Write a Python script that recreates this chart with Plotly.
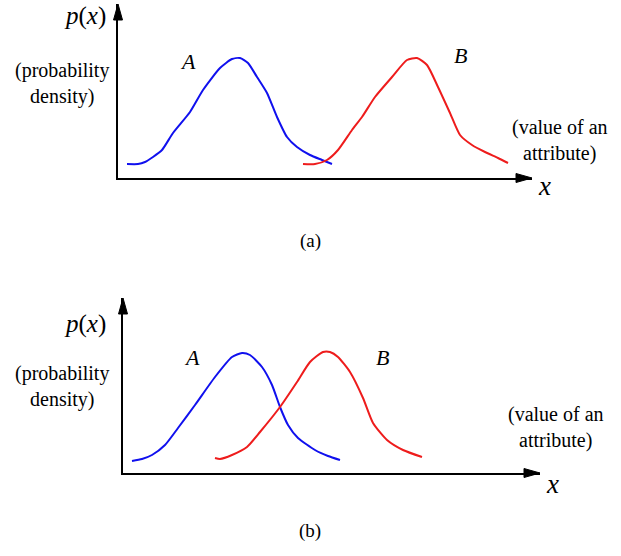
import plotly.graph_objects as go

W, H = 621, 556

# ---- data (axis units: x = attribute value, y = probability density) ----
# Panel (a): well separated classes
a_blue_x = [9, 20, 27, 35, 44, 55, 72, 85, 102, 114, 122, 130, 139, 149, 159, 169, 179, 192, 204, 214]
a_blue_y = [14, 14, 16, 21, 28, 45, 66, 88, 110, 119, 120, 115, 101, 85, 61, 41, 31, 23, 18, 14]
a_red_x = [185, 197, 209, 220, 234, 244, 257, 274, 289, 299, 309, 320, 332, 342, 354, 367, 380, 390]
a_red_y = [14, 14, 18, 28, 48, 61, 81, 101, 118, 120, 113, 91, 65, 43, 33, 26, 20, 15]

# Panel (b): overlapping classes
b_blue_x = [9, 19, 29, 42, 55, 72, 92, 109, 119, 127, 139, 149, 157, 165, 175, 192, 205, 217]
b_blue_y = [12, 14, 18, 28, 45, 68, 96, 116, 120, 118, 106, 88, 66, 48, 35, 23, 17, 13]
b_red_x = [92, 97, 109, 124, 137, 157, 174, 187, 200, 207, 215, 227, 240, 250, 264, 280, 299]
b_red_y = [15, 14, 18, 26, 41, 66, 91, 111, 121, 121, 116, 101, 75, 50, 33, 23, 16]

x_range_a, y_range_a = 414, 174
x_range_b, y_range_b = 417, 175

FONT = "Liberation Serif, Times New Roman, Times, serif"
BLUE = "#1010ee"
RED = "#ee1c1c"


def px(x):
    return x / W


def py(y):
    return 1 - y / H


fig = go.Figure()
fig.add_trace(go.Scatter(x=a_blue_x, y=a_blue_y, mode="lines", xaxis="x", yaxis="y",
                         line=dict(color=BLUE, width=2, shape="spline", smoothing=0.6)))
fig.add_trace(go.Scatter(x=a_red_x, y=a_red_y, mode="lines", xaxis="x", yaxis="y",
                         line=dict(color=RED, width=2, shape="spline", smoothing=0.6)))
fig.add_trace(go.Scatter(x=b_blue_x, y=b_blue_y, mode="lines", xaxis="x2", yaxis="y2",
                         line=dict(color=BLUE, width=2, shape="spline", smoothing=0.6)))
fig.add_trace(go.Scatter(x=b_red_x, y=b_red_y, mode="lines", xaxis="x2", yaxis="y2",
                         line=dict(color=RED, width=2, shape="spline", smoothing=0.6)))

ax_common = dict(showgrid=False, zeroline=False, showticklabels=False, ticks="",
                 showline=True, linecolor="black", linewidth=2, fixedrange=True)

# panel frames in pixels (origin x, origin y, x tip, y tip)
panel_a = (118, 178, 532, 4)
panel_b = (123, 473, 540, 298)

fig.update_layout(
    width=W, height=H,
    margin=dict(l=0, r=0, t=0, b=0),
    paper_bgcolor="white", plot_bgcolor="white",
    showlegend=False,
    hovermode=False,
    xaxis=dict(domain=[px(panel_a[0]), px(panel_a[2])], range=[0, x_range_a], anchor="y", **ax_common),
    yaxis=dict(domain=[py(panel_a[1]), py(panel_a[3])], range=[0, y_range_a], anchor="x", **ax_common),
    xaxis2=dict(domain=[px(panel_b[0]), px(panel_b[2])], range=[0, x_range_b], anchor="y2", **ax_common),
    yaxis2=dict(domain=[py(panel_b[1]), py(panel_b[3])], range=[0, y_range_b], anchor="x2", **ax_common),
)

# arrowheads at the ends of the axes (paper-anchored so they are not clipped)
shapes = []
for ox, oy, tx, ty in [panel_a, panel_b]:
    shapes.append(dict(type="path", xref="paper", yref="paper", xsizemode="pixel", ysizemode="pixel",
                       xanchor=px(tx), yanchor=py(oy), path="M0,0 L-16,4.5 L-16,-4.5 Z",
                       fillcolor="black", line=dict(color="black", width=1)))
    shapes.append(dict(type="path", xref="paper", yref="paper", xsizemode="pixel", ysizemode="pixel",
                       xanchor=px(ox), yanchor=py(ty), path="M0,0 L-4.5,-16 L4.5,-16 Z",
                       fillcolor="black", line=dict(color="black", width=1)))
fig.update_layout(shapes=shapes)


def txt(x, y, text, size=20, xanchor="center"):
    fig.add_annotation(x=px(x), y=py(y), xref="paper", yref="paper", text=text,
                       showarrow=False, xanchor=xanchor, yanchor="middle",
                       font=dict(family=FONT, size=size, color="black"), align="center")


# panel (a) texts
txt(108, 16, "<i>p</i>(<i>x</i>)", size=25, xanchor="right")
txt(62, 84, "(probability<br>density)", size=20)
txt(188, 62, "<i>A</i>", size=22)
txt(460, 55, "<i>B</i>", size=22)
txt(560, 140, "(value of an<br>attribute)", size=20)
txt(544, 186, "<i>x</i>", size=27)
txt(310, 241, "(a)", size=19)

# panel (b) texts
txt(108, 324, "<i>p</i>(<i>x</i>)", size=25, xanchor="right")
txt(62, 386, "(probability<br>density)", size=20)
txt(192, 357, "<i>A</i>", size=22)
txt(382, 357, "<i>B</i>", size=22)
txt(556, 427, "(value of an<br>attribute)", size=20)
txt(552, 484, "<i>x</i>", size=27)
txt(310, 531, "(b)", size=19)

fig.write_html("out.html", config={"displayModeBar": False, "staticPlot": True},
               post_script="document.body.style.margin='0';")
